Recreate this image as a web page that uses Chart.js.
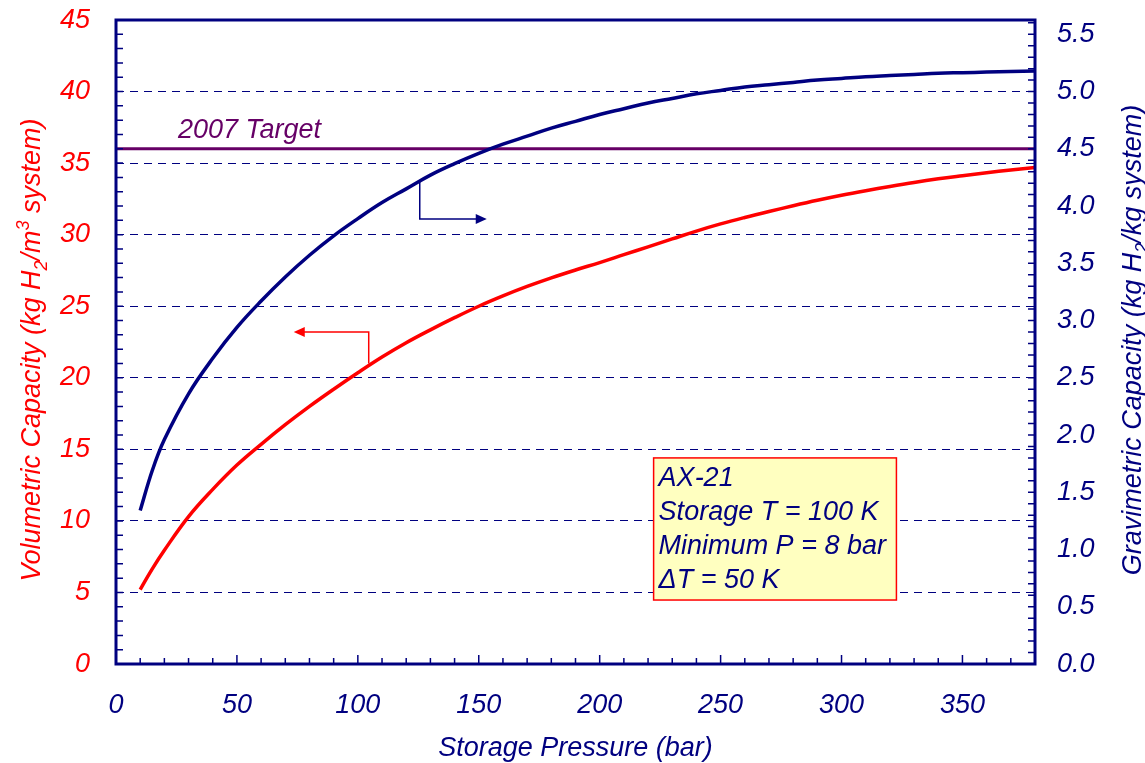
<!DOCTYPE html>
<html>
<head>
<meta charset="utf-8">
<script src="https://cdn.jsdelivr.net/npm/chart.js@4.4.1/dist/chart.umd.min.js"></script>
<style>
  html, body { margin: 0; padding: 0; background: #fff; }
  #wrap { width: 1145px; height: 763px; position: relative; }
</style>
</head>
<body>
<div id="wrap"><canvas id="chart"></canvas></div>
<script>
// storage pressure (bar)
var pressures = [10, 15, 20, 30, 40, 50, 60, 70, 80, 90, 100, 110, 120, 130, 140, 150, 160, 170, 180, 190, 200,
  210, 220, 230, 240, 250, 260, 270, 280, 290, 300, 310, 320, 330, 340, 350, 360, 370, 380];
// volumetric capacity, kg H2 / m3 system (left axis)
var volumetric = [5.2, 6.65, 7.95, 10.3, 12.2, 13.9, 15.35, 16.72, 18.0, 19.2, 20.35, 21.45, 22.45, 23.35, 24.2, 25.0, 25.72, 26.38, 26.98, 27.53, 28.05,
  28.6, 29.15, 29.7, 30.25, 30.75, 31.2, 31.62, 32.02, 32.4, 32.75, 33.07, 33.37, 33.65, 33.9, 34.12, 34.33, 34.52, 34.7];
// gravimetric capacity, kg H2 / kg system (right axis)
var gravimetric = [1.34, 1.69, 1.96, 2.36, 2.67, 2.94, 3.17, 3.38, 3.57, 3.74, 3.89, 4.03, 4.15, 4.27, 4.37, 4.46, 4.54, 4.61, 4.68, 4.74, 4.80,
  4.85, 4.90, 4.94, 4.98, 5.01, 5.04, 5.06, 5.08, 5.10, 5.115, 5.13, 5.14, 5.15, 5.16, 5.165, 5.17, 5.175, 5.18];
var targetValue = 36;   // 2007 target on the volumetric axis
var targetRange = [0, 380];

var xTicks = [0, 50, 100, 150, 200, 250, 300, 350];
var leftTicks = [0, 5, 10, 15, 20, 25, 30, 35, 40, 45];
var rightTicks = [0, 0.5, 1, 1.5, 2, 2.5, 3, 3.5, 4, 4.5, 5, 5.5];
var infoLines = ['AX-21', 'Storage T = 100 K', 'Minimum P = 8 bar', '\u0394T = 50 K'];

var NAVY = '#000080';
var RED = '#ff0000';
var PURPLE = '#660066';
var FONT = '"Liberation Sans", Arial, sans-serif';

function toPoints(xs, ys) {
  return xs.map(function (x, i) { return { x: x, y: ys[i] }; });
}

function drawRich(ctx, parts, size) {
  // parts: [text, mode] with mode '', 'sub' or 'sup'
  var small = Math.round(size * 0.66);
  var widths = parts.map(function (p) {
    ctx.font = 'italic ' + (p[1] ? small : size) + 'px ' + FONT;
    return ctx.measureText(p[0]).width;
  });
  var total = widths.reduce(function (a, b) { return a + b; }, 0);
  var x = -total / 2;
  parts.forEach(function (p, i) {
    ctx.font = 'italic ' + (p[1] ? small : size) + 'px ' + FONT;
    var dy = p[1] === 'sub' ? size * 0.25 : (p[1] === 'sup' ? -size * 0.42 : 0);
    ctx.fillText(p[0], x, dy);
    x += widths[i];
  });
}

function arrowHead(ctx, x, y, dir, color) {
  ctx.fillStyle = color;
  ctx.beginPath();
  ctx.moveTo(x, y);
  ctx.lineTo(x - dir * 11, y - 5);
  ctx.lineTo(x - dir * 11, y + 5);
  ctx.closePath();
  ctx.fill();
}

var decorPlugin = {
  id: 'decor',
  afterDatasetsDraw: function (chart) {
    var ctx = chart.ctx;
    var a = chart.chartArea;
    var xs = chart.scales.x, yl = chart.scales.y, yr = chart.scales.y2;
    ctx.save();

    // inward ticks
    ctx.strokeStyle = NAVY;
    ctx.lineWidth = 1.5;
    ctx.beginPath();
    for (var v = 0; v <= 45; v += 1) {
      var py = yl.getPixelForValue(v);
      ctx.moveTo(a.left, py); ctx.lineTo(a.left + 7, py);
    }
    for (var k = 0; k <= 56; k += 1) {
      var py2 = yr.getPixelForValue(k / 10);
      ctx.moveTo(a.right, py2); ctx.lineTo(a.right - 7, py2);
    }
    for (var p = 0; p <= 380; p += 10) {
      var px = xs.getPixelForValue(p);
      ctx.moveTo(px, a.bottom); ctx.lineTo(px, a.bottom - (p % 50 === 0 ? 9 : 6));
    }
    ctx.stroke();

    // frame
    ctx.lineWidth = 3;
    ctx.strokeRect(a.left, a.top, a.right - a.left, a.bottom - a.top);

    // 2007 target label
    ctx.fillStyle = PURPLE;
    ctx.font = 'italic 27px ' + FONT;
    ctx.textAlign = 'left';
    ctx.textBaseline = 'alphabetic';
    ctx.fillText('2007 Target', xs.getPixelForValue(25.6), yl.getPixelForValue(36.75));

    // arrow pointing to right axis
    ctx.lineWidth = 1.5;
    ctx.strokeStyle = NAVY;
    var bx = xs.getPixelForValue(125.6), by0 = yl.getPixelForValue(33.7), by1 = yl.getPixelForValue(31.1);
    var bx1 = xs.getPixelForValue(153.3);
    ctx.beginPath();
    ctx.moveTo(bx, by0); ctx.lineTo(bx, by1); ctx.lineTo(bx1 - 8, by1);
    ctx.stroke();
    arrowHead(ctx, bx1, by1, 1, NAVY);

    // arrow pointing to left axis
    ctx.strokeStyle = RED;
    var rx = xs.getPixelForValue(104.5), ry0 = yl.getPixelForValue(21.0), ry1 = yl.getPixelForValue(23.2);
    var rx1 = xs.getPixelForValue(73.5);
    ctx.beginPath();
    ctx.moveTo(rx, ry0); ctx.lineTo(rx, ry1); ctx.lineTo(rx1 + 8, ry1);
    ctx.stroke();
    arrowHead(ctx, rx1, ry1, -1, RED);

    // info box
    var l = xs.getPixelForValue(222.3), r = xs.getPixelForValue(322.7);
    var t = yl.getPixelForValue(14.4), b = yl.getPixelForValue(4.47);
    ctx.fillStyle = '#ffffc0';
    ctx.fillRect(l, t, r - l, b - t);
    ctx.strokeStyle = RED;
    ctx.lineWidth = 1.5;
    ctx.strokeRect(l, t, r - l, b - t);
    ctx.fillStyle = NAVY;
    ctx.font = 'italic 27px ' + FONT;
    infoLines.forEach(function (s, i) {
      ctx.fillText(s, l + 5, t + 28 + i * 34);
    });
    ctx.restore();
  },
  afterDraw: function (chart) {
    var ctx = chart.ctx;
    var a = chart.chartArea;
    ctx.save();
    ctx.textBaseline = 'alphabetic';
    ctx.textAlign = 'left';

    // x title
    ctx.fillStyle = NAVY;
    ctx.translate((a.left + a.right) / 2, 756);
    drawRich(ctx, [['Storage Pressure (bar)', '']], 27);
    ctx.restore();

    // left title
    ctx.save();
    ctx.textBaseline = 'alphabetic';
    ctx.fillStyle = RED;
    ctx.translate(40, 350);
    ctx.rotate(-Math.PI / 2);
    drawRich(ctx, [['Volumetric Capacity (kg H', ''], ['2', 'sub'], ['/m', ''], ['3', 'sup'], [' system)', '']], 27);
    ctx.restore();

    // right title
    ctx.save();
    ctx.textBaseline = 'alphabetic';
    ctx.fillStyle = NAVY;
    ctx.translate(1141, 340);
    ctx.rotate(-Math.PI / 2);
    drawRich(ctx, [['Gravimetric Capacity (kg H', ''], ['2', 'sub'], ['/kg system)', '']], 27);
    ctx.restore();
  }
};

var tickFont = { family: FONT, size: 27, style: 'italic' };

function noPad(s) {
  s.paddingTop = 0; s.paddingBottom = 0; s.paddingLeft = 0; s.paddingRight = 0;
}

new Chart(document.getElementById('chart'), {
  type: 'line',
  data: {
    datasets: [
      {
        label: 'Gravimetric',
        data: toPoints(pressures, gravimetric),
        yAxisID: 'y2',
        borderColor: NAVY,
        borderWidth: 3.5,
        pointRadius: 0,
        tension: 0.4
      },
      {
        label: 'Volumetric',
        data: toPoints(pressures, volumetric),
        yAxisID: 'y',
        borderColor: RED,
        borderWidth: 3.5,
        pointRadius: 0,
        tension: 0.4
      },
      {
        label: '2007 Target',
        data: toPoints(targetRange, [targetValue, targetValue]),
        yAxisID: 'y',
        borderColor: PURPLE,
        borderWidth: 3,
        pointRadius: 0
      }
    ]
  },
  options: {
    responsive: true,
    maintainAspectRatio: false,
    animation: false,
    layout: { padding: { top: 20, left: 0, right: 0, bottom: 0 } },
    plugins: { legend: { display: false }, tooltip: { enabled: false } },
    scales: {
      x: {
        type: 'linear',
        min: 0,
        max: 380,
        afterBuildTicks: function (s) { s.ticks = xTicks.map(function (v) { return { value: v }; }); },
        afterFit: function (s) { s.height = 99; noPad(s); },
        grid: { display: false, drawTicks: false },
        border: { display: false },
        ticks: { color: NAVY, font: tickFont, padding: 25, maxRotation: 0, autoSkip: false }
      },
      y: {
        position: 'left',
        min: 0,
        max: 45,
        afterBuildTicks: function (s) { s.ticks = leftTicks.map(function (v) { return { value: v }; }); },
        afterFit: function (s) { s.width = 116; noPad(s); },
        grid: {
          drawTicks: false,
          lineWidth: 1,
          color: function (c) { return (c.tick && c.tick.value > 0 && c.tick.value < 45) ? NAVY : 'rgba(0,0,0,0)'; }
        },
        border: { display: false, dash: [8, 6] },
        ticks: { color: RED, font: tickFont, padding: 26 }
      },
      y2: {
        position: 'right',
        min: 0,
        max: 5.625,
        afterBuildTicks: function (s) { s.ticks = rightTicks.map(function (v) { return { value: v }; }); },
        afterFit: function (s) { s.width = 110; noPad(s); },
        grid: { display: false, drawTicks: false },
        border: { display: false },
        ticks: {
          color: NAVY, font: tickFont, padding: 22,
          callback: function (v) { return Number(v).toFixed(1); }
        }
      }
    }
  },
  plugins: [decorPlugin]
});
</script>
</body>
</html>
